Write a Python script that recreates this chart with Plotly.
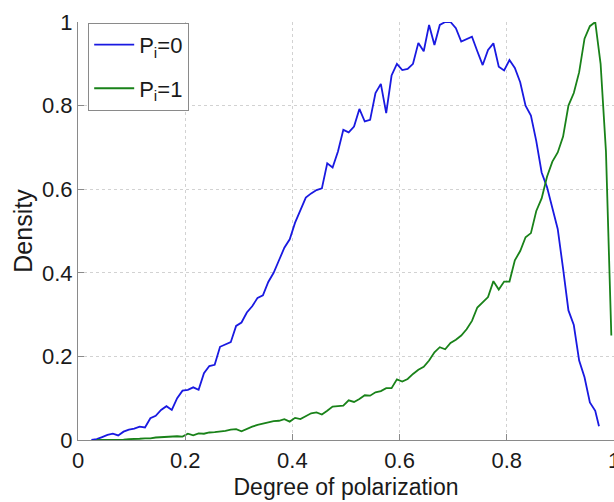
import plotly.graph_objects as go

blue_x = [0.025,0.035,0.045,0.055,0.065,0.075,0.085,0.095,0.105,0.115,0.125,0.135,0.145,0.155,0.165,0.175,0.185,0.195,
          0.205,0.215,0.225,0.235,0.245,0.255,0.265,0.275,0.285,0.295,0.305,0.315,0.325,0.335,0.345,0.355,0.365,0.375,
          0.385,0.395,0.405,0.415,0.425,0.435,0.445,0.455,0.465,0.475,0.485,0.495,0.505,0.515,0.525,0.535,0.545,0.555,
          0.565,0.575,0.585,0.595,0.605,0.615,0.625,0.635,0.645,0.655,0.665,0.675,0.685,0.695,0.705,0.715,0.725,0.735,
          0.745,0.755,0.765,0.775,0.785,0.795,0.805,0.815,0.825,0.835,0.845,0.855,0.865,0.875,0.885,0.895,0.905,0.915,
          0.925,0.935,0.945,0.955,0.965,0.972]
blue_y = [0.0,0.002,0.007,0.012,0.015,0.011,0.02,0.025,0.027,0.032,0.03,0.052,0.058,0.072,0.081,0.072,0.1,0.118,
          0.12,0.126,0.12,0.16,0.177,0.18,0.223,0.228,0.234,0.273,0.281,0.305,0.32,0.34,0.346,0.378,0.4,0.43,
          0.46,0.48,0.52,0.55,0.58,0.59,0.598,0.602,0.662,0.652,0.69,0.742,0.736,0.75,0.792,0.762,0.766,0.83,
          0.852,0.782,0.872,0.9,0.885,0.888,0.9,0.95,0.93,0.993,0.945,0.993,1.0,1.0,0.985,0.953,0.96,0.965,
          0.93,0.897,0.933,0.949,0.893,0.884,0.909,0.89,0.856,0.8,0.776,0.715,0.64,0.605,0.555,0.505,0.41,0.31,
          0.275,0.19,0.15,0.09,0.07,0.033]

green_x = [0.035,0.045,0.055,0.065,0.075,0.085,0.095,0.105,0.115,0.125,0.135,0.145,0.155,0.165,0.175,0.185,0.195,
           0.205,0.215,0.225,0.235,0.245,0.255,0.265,0.275,0.285,0.295,0.305,0.315,0.325,0.335,0.345,0.355,0.365,
           0.375,0.385,0.395,0.405,0.415,0.425,0.435,0.445,0.455,0.465,0.475,0.485,0.495,0.505,0.515,0.525,0.535,
           0.545,0.555,0.565,0.575,0.585,0.595,0.605,0.615,0.625,0.635,0.645,0.655,0.665,0.675,0.685,0.695,0.705,
           0.715,0.725,0.735,0.745,0.755,0.765,0.775,0.785,0.795,0.805,0.815,0.825,0.835,0.845,0.855,0.865,0.875,
           0.885,0.895,0.905,0.915,0.925,0.935,0.945,0.955,0.965,0.975,0.985,0.995]
green_y = [0.0,0.0,0.0,0.001,0.001,0.001,0.002,0.002,0.003,0.004,0.004,0.006,0.007,0.008,0.008,0.009,0.008,
           0.015,0.011,0.016,0.015,0.018,0.019,0.02,0.022,0.025,0.026,0.021,0.027,0.032,0.036,0.039,0.042,0.045,
           0.046,0.05,0.044,0.053,0.05,0.058,0.064,0.066,0.061,0.07,0.08,0.081,0.082,0.095,0.091,0.098,0.107,
           0.106,0.114,0.117,0.124,0.124,0.145,0.14,0.146,0.158,0.168,0.175,0.19,0.21,0.222,0.217,0.232,0.24,
           0.25,0.265,0.285,0.317,0.33,0.342,0.38,0.36,0.379,0.379,0.43,0.452,0.485,0.495,0.548,0.578,0.63,
           0.666,0.688,0.726,0.8,0.83,0.88,0.96,0.99,1.0,0.9,0.69,0.25]

x_ticks = [0, 0.2, 0.4, 0.6, 0.8, 1]
x_tick_labels = ["0", "0.2", "0.4", "0.6", "0.8", "1"]
y_ticks = [0, 0.2, 0.4, 0.6, 0.8, 1]
y_tick_labels = ["0", "0.2", "0.4", "0.6", "0.8", "1"]

fig = go.Figure()
fig.add_trace(go.Scatter(x=blue_x, y=blue_y, mode="lines", name="P<sub>i</sub>=0", legendgroup="a",
                         line=dict(color="rgb(25,25,225)", width=1.8)))
fig.add_trace(go.Scatter(x=green_x, y=green_y, mode="lines", name="P<sub>i</sub>=1", legendgroup="b",
                         line=dict(color="rgb(25,130,25)", width=1.8)))

axis_common = dict(showgrid=True, gridcolor="#d2d2d2", griddash="dot", gridwidth=1,
                   showline=True, linecolor="#8a8a8a", linewidth=1.2,
                   ticks="inside", ticklen=6, tickcolor="#8a8a8a",
                   zeroline=False, automargin=False, ticklabeloverflow="allow",
                   tickfont=dict(size=22, color="#1a1a1a"))

fig.update_layout(
    width=614, height=502,
    margin=dict(l=78, r=0, t=22, b=62, pad=0),
    paper_bgcolor="white", plot_bgcolor="white",
    font=dict(family="Liberation Sans, Arial, sans-serif", color="#1a1a1a"),
    xaxis=dict(range=[0, 1], tickvals=x_ticks, ticktext=x_tick_labels,
               title=dict(text="Degree of polarization", font=dict(size=23), standoff=7),
               **axis_common),
    yaxis=dict(range=[0, 1], tickvals=y_ticks, ticktext=y_tick_labels,
               title=dict(text="Density", font=dict(size=25), standoff=2),
               **axis_common),
    legend=dict(x=0.019, y=0.998, xanchor="left", yanchor="top",
                bgcolor="white", bordercolor="#8a8a8a", borderwidth=1,
                tracegroupgap=12, itemwidth=40,
                font=dict(size=22, color="#1a1a1a")),
    showlegend=True,
)

fig.write_html("out.html", config={"displayModeBar": False},
               post_script="document.body.style.margin='0';document.body.style.overflow='hidden';")
